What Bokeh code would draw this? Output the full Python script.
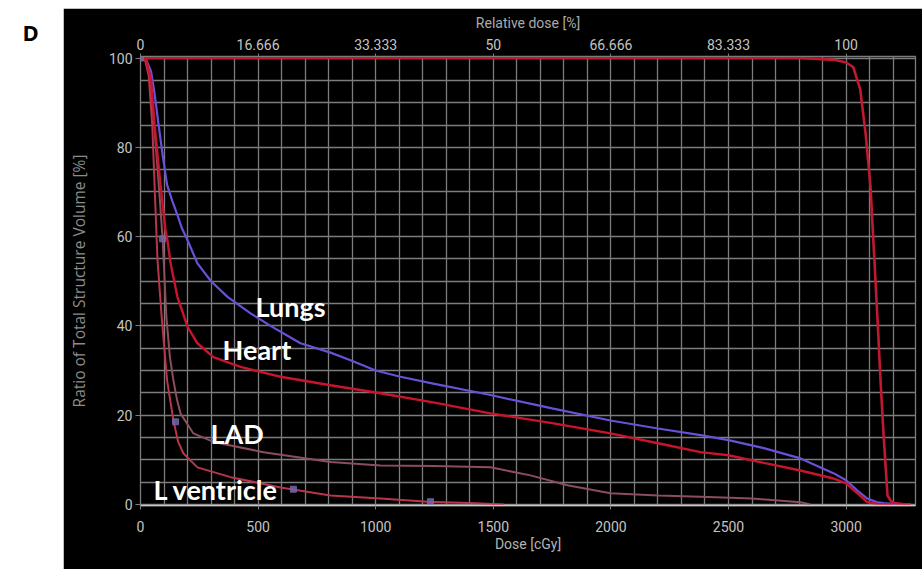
from bokeh.plotting import figure
from bokeh.models import Range1d, LinearAxis, FixedTicker, Label, Spacer
from bokeh.layouts import row, column
from bokeh.core.properties import value
from bokeh.embed import file_html
from bokeh.resources import INLINE

# ---------------- data ----------------
ptv_dose = [0, 500, 1000, 1500, 2000, 2500, 2800, 2950, 3000, 3030, 3060, 3083, 3104, 3120,
            3135, 3146, 3160, 3176, 3190, 3205, 3240, 3275]
ptv_vol = [100, 100, 100, 100, 100, 100, 100, 99.6, 99, 98, 93, 83, 71, 55,
           40, 28, 15, 2.0, 0.8, 0.3, 0.05, 0]

lungs_dose = [0, 25, 45, 60, 77, 94, 113, 135, 156, 175, 195, 242, 300, 370, 468, 553, 680,
              808, 893, 1000, 1105, 1250, 1488, 1750, 1998, 2200, 2381, 2500, 2650, 2806,
              2946, 3000, 3048, 3090, 3130, 3160, 3200, 3250]
lungs_vol = [100, 99.5, 97, 92, 85, 78.3, 71.6, 68, 65, 62, 59.8, 54, 50, 46.5, 42.8, 40, 36.1,
             34, 32.3, 30, 28.6, 27, 24.5, 21.5, 18.8, 17, 15.5, 14.4, 12.6, 10.3,
             7, 5.4, 3.1, 1.3, 0.5, 0.3, 0.1, 0]

heart_dose = [0, 25, 45, 60, 85, 106, 113, 128, 157, 200, 242, 310, 425, 510, 595, 808, 1020,
              1250, 1488, 1750, 1998, 2200, 2381, 2500, 2650, 2806, 2946, 3000, 3048, 3090,
              3133, 3200]
heart_vol = [100, 99.5, 95, 85, 71.6, 61.5, 59.7, 54, 46.5, 39.8, 36.1, 33, 30.8, 29.7, 28.6,
             26.7, 24.9, 22.8, 20.4, 18.2, 15.9, 13.7, 11.7, 11, 9.3, 7.6, 5.8, 4.7, 2.5, 0.5,
             0.1, 0]

lad_dose = [0, 20, 40, 58, 80, 94, 110, 125, 140, 155, 170, 225, 310, 523, 808, 1020, 1250,
            1488, 1658, 1815, 1998, 2200, 2381, 2600, 2806, 2848]
lad_vol = [100, 99.5, 96, 85, 70, 59.5, 42, 33, 27.8, 23.5, 20.4, 15.9, 14, 11.7, 9.5, 8.7,
           8.6, 8.3, 6.5, 4.3, 2.5, 2.0, 1.7, 1.3, 0.5, 0]

lv_dose = [0, 20, 35, 50, 72, 90, 113, 140, 160, 183, 242, 383, 595, 808, 1020, 1220, 1400, 1545]
lv_vol = [100, 99.5, 96, 85, 55, 42, 27.8, 18.8, 14, 11.4, 8.3, 6.1, 3.8, 2.0, 1.3, 0.6, 0.3, 0]

marker_dose = [0, 94, 149, 650, 1233]
marker_vol = [100, 59.5, 18.5, 3.4, 0.6]

label_text = ["Lungs", "Heart", "LAD", "L ventricle"]
label_x = [489, 349, 298, 55]
label_y = [44.4, 34.8, 15.9, 3.4]

dose_ticks = [0, 500, 1000, 1500, 2000, 2500, 3000]
rel_labels = ["0", "16.666", "33.333", "50", "66.666", "83.333", "100"]
vol_ticks = [0, 20, 40, 60, 80, 100]

# ---------------- panel letter ----------------
H = 569
TOP = 8
LW = 63
p0 = figure(width=LW, height=H, output_backend="svg", toolbar_location=None, title=None,
            x_range=Range1d(0, LW), y_range=Range1d(0, H), min_border=0,
            x_axis_type=None, y_axis_type=None,
            background_fill_color="white", border_fill_color="white", outline_line_color=None)
p0.grid.visible = False
p0.add_layout(Label(x=22, y=H - 31, text="D", text_font="Open Sans", text_font_style="bold",
                    text_font_size="22px", text_color="black", text_baseline="middle"))

# ---------------- main chart ----------------
GRID = "#7c7c7c"
TICK_FONT = "Roboto"
p = figure(width=922 - LW, height=H - TOP, output_backend="svg", toolbar_location=None,
           title=None,
           x_range=Range1d(0, 3295), y_range=Range1d(-0.25, 100.35),
           background_fill_color="black", border_fill_color="black",
           min_border_left=77, min_border_right=7, min_border_top=48, min_border_bottom=64,
           outline_line_color=GRID, outline_line_width=1.3)

p.xgrid.ticker = FixedTicker(ticks=list(range(0, 3300, 100)))
p.ygrid.ticker = FixedTicker(ticks=list(range(0, 101, 5)))
for g in (p.xgrid, p.ygrid):
    g.grid_line_color = GRID
    g.grid_line_width = 1.3

# left axis
ya = p.yaxis[0]
ya.ticker = FixedTicker(ticks=vol_ticks)
ya.axis_label = "Ratio of Total Structure Volume [%]"
ya.axis_label_text_font = "Open Sans"
ya.axis_label_text_font_size = "15.5px"
ya.axis_label_text_font_style = "normal"
ya.axis_label_text_color = "#8c8c8c"
ya.axis_label_standoff = 16
ya.major_label_text_font = TICK_FONT
ya.major_label_text_font_size = "14px"
ya.major_label_text_color = "#c4c4c4"
ya.major_label_standoff = 3
ya.major_tick_out = 5
ya.major_tick_in = 0
ya.minor_tick_line_color = None
ya.axis_line_color = GRID
ya.major_tick_line_color = GRID

# bottom axis
xa = p.xaxis[0]
xa.ticker = FixedTicker(ticks=dose_ticks)
xa.axis_label = "Dose [cGy]"
xa.axis_label_text_font = TICK_FONT
xa.axis_label_text_font_size = "14px"
xa.axis_label_text_font_style = "normal"
xa.axis_label_text_color = "#b4b4b4"
xa.axis_label_standoff = 1
xa.major_label_text_font = TICK_FONT
xa.major_label_text_font_size = "14px"
xa.major_label_text_color = "#c4c4c4"
xa.major_label_standoff = 11
xa.major_tick_out = 4
xa.major_tick_in = 0
xa.minor_tick_line_color = None
xa.axis_line_color = "#c8c8c8"
xa.axis_line_width = 1.5
xa.major_tick_line_color = GRID

# top axis: relative dose
ta = LinearAxis(ticker=FixedTicker(ticks=dose_ticks),
                major_label_overrides={t: s for t, s in zip(dose_ticks, rel_labels)},
                axis_label="Relative dose [%]")
ta.axis_label_text_font = TICK_FONT
ta.axis_label_text_font_size = "14px"
ta.axis_label_text_font_style = "normal"
ta.axis_label_text_color = "#ababab"
ta.axis_label_standoff = 5
ta.major_label_text_font = TICK_FONT
ta.major_label_text_font_size = "14px"
ta.major_label_text_color = "#c4c4c4"
ta.major_label_standoff = 4
ta.major_tick_out = 3
ta.major_tick_in = 0
ta.minor_tick_line_color = None
ta.axis_line_color = GRID
ta.major_tick_line_color = GRID
p.add_layout(ta, "above")

# curves
p.line(lad_dose, lad_vol, line_color="#8c4d5c", line_width=2)
p.line(lv_dose, lv_vol, line_color="#b8354a", line_width=2)
p.line(lungs_dose, lungs_vol, line_color="#6a4fd8", line_width=2.2)
p.line(heart_dose, heart_vol, line_color="#c8142c", line_width=2.4)
p.line(ptv_dose, ptv_vol, line_color="#bf1a30", line_width=2.6)

p.scatter(marker_dose, marker_vol, marker="square", size=6,
          fill_color="#7466a8", line_color="#7466a8", alpha=0.85)

p.text(label_x, label_y, text=label_text, text_font=value("Lato"), text_font_style="bold",
       text_font_size="27px", text_color="white", text_align="left",
       text_baseline="middle")

layout = row(p0, column(Spacer(width=922 - LW, height=TOP), p))
open("out.html", "w").write(file_html(layout, INLINE))
